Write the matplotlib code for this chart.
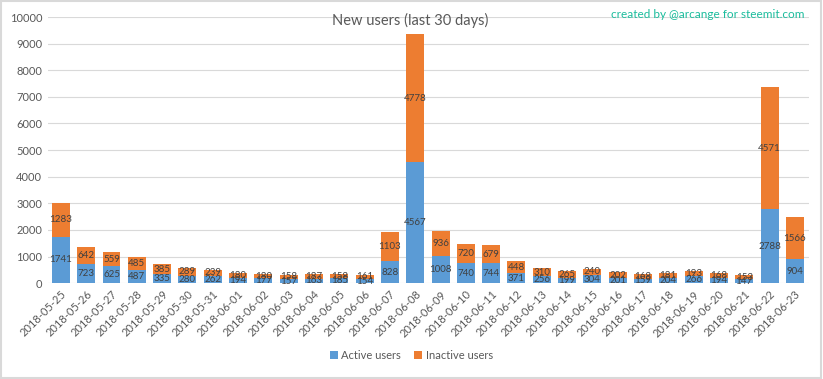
import matplotlib
matplotlib.use('Agg')
import matplotlib.pyplot as plt
import numpy as np

dates = ['2018-05-25', '2018-05-26', '2018-05-27', '2018-05-28', '2018-05-29',
         '2018-05-30', '2018-05-31', '2018-06-01', '2018-06-02', '2018-06-03',
         '2018-06-04', '2018-06-05', '2018-06-06', '2018-06-07', '2018-06-08',
         '2018-06-09', '2018-06-10', '2018-06-11', '2018-06-12', '2018-06-13',
         '2018-06-14', '2018-06-15', '2018-06-16', '2018-06-17', '2018-06-18',
         '2018-06-19', '2018-06-20', '2018-06-21', '2018-06-22', '2018-06-23']
active = [1741, 723, 625, 487, 335, 280, 262, 194, 177, 157,
          163, 185, 154, 828, 4567, 1008, 740, 744, 371, 256,
          199, 304, 201, 159, 204, 266, 194, 147, 2788, 904]
inactive = [1283, 642, 559, 485, 385, 289, 239, 180, 180, 158,
            187, 158, 161, 1103, 4778, 936, 720, 679, 448, 310,
            265, 240, 202, 168, 181, 193, 168, 153, 4571, 1566]
yticks = list(range(0, 10001, 1000))

plt.rcParams['font.family'] = ['Lato', 'DejaVu Sans']

blue = '#5B9BD5'
orange = '#ED7D31'
txt = '#595959'

fig = plt.figure(figsize=(8.23, 3.79), dpi=100)
ax = fig.add_axes([0.058, 0.253, 0.925, 0.702])

x = np.arange(len(dates))
w = 0.71
b1 = ax.bar(x, active, w, color=blue, label='Active users', zorder=3)
b2 = ax.bar(x, inactive, w, bottom=active, color=orange, label='Inactive users', zorder=3)

for i in range(len(dates)):
    ax.text(x[i], active[i] / 2, str(active[i]), ha='center', va='center',
            fontsize=7, color='#404040', zorder=4)
    ax.text(x[i], active[i] + inactive[i] / 2, str(inactive[i]), ha='center', va='center',
            fontsize=7, color='#404040', zorder=4)

ax.set_xlim(-0.52, 29.56)
ax.set_ylim(0, 10000)
ax.set_yticks(yticks)
ax.set_yticklabels([str(v) for v in yticks], fontsize=8, color=txt)
ax.set_xticks(x)
ax.set_xticklabels(dates, rotation=45, ha='right', rotation_mode='anchor', fontsize=8, color=txt)
ax.tick_params(length=0, pad=4)
ax.grid(axis='y', color='#D9D9D9', linewidth=0.8, zorder=0)
for s in ax.spines.values():
    s.set_visible(False)

fig.text(0.498, 0.945, 'New users (last 30 days)', ha='center', va='center', fontsize=10.5, color=txt)
fig.text(0.978, 0.963, 'created by @arcange for steemit.com', ha='right', va='center',
         fontsize=8.5, color='#1ABC9C')

leg = fig.legend(handles=[b1, b2], loc='center', bbox_to_anchor=(0.5, 0.062), ncol=2,
                 frameon=False, fontsize=8, handlelength=0.7, handleheight=0.7,
                 handletextpad=0.3, columnspacing=1.2)
for t in leg.get_texts():
    t.set_color(txt)

fig.patches.append(plt.Rectangle((0.001, 0.002), 0.997, 0.995, transform=fig.transFigure,
                                 fill=False, edgecolor='#D9D9D9', linewidth=1.5))

fig.savefig('out.png', dpi=100)
